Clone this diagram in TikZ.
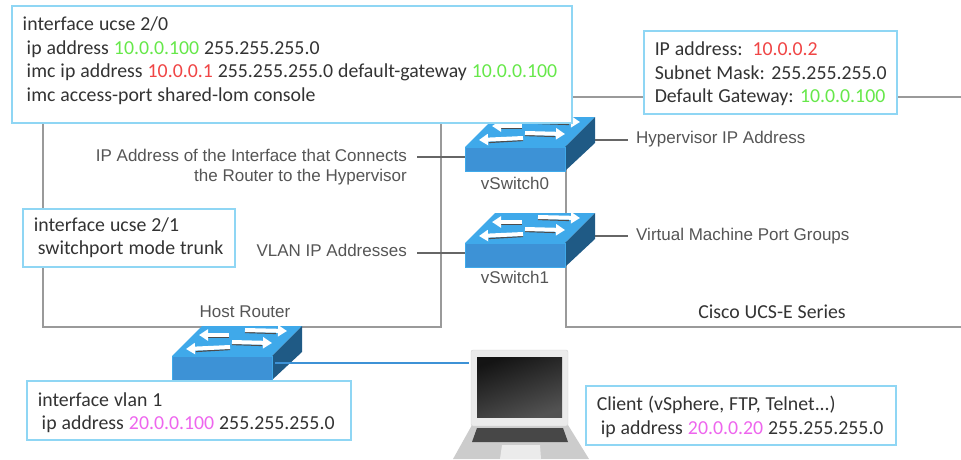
\documentclass[tikz,border=0pt]{standalone}
\usepackage{fontspec}
\setmainfont{Carlito}
\newfontfamily\labelfont{Liberation Sans}
\usetikzlibrary{arrows.meta,positioning}
\definecolor{boxblue}{HTML}{8FD6F4}
\definecolor{wiregray}{HTML}{9A9A9A}
\definecolor{inktext}{HTML}{333333}
\definecolor{labeltext}{HTML}{555555}
\definecolor{gwgreen}{HTML}{66E84A}
\definecolor{imcred}{HTML}{F04545}
\definecolor{vlanpink}{HTML}{EE66EE}
\definecolor{swtopc}{HTML}{3FA9EA}
\definecolor{swfrontc}{HTML}{3D92D6}
\definecolor{swsidec}{HTML}{1F5A85}
\newcommand{\gw}[1]{\textcolor{gwgreen}{#1}}
\newcommand{\imc}[1]{\textcolor{imcred}{#1}}
\newcommand{\vlan}[1]{\textcolor{vlanpink}{#1}}
\newcommand{\ind}{\hspace*{4pt}}
\newcommand{\topgap}[1]{\rule{0pt}{#1}}
\newcommand{\boxfont}{\fontsize{19.8}{23.5}\selectfont\spaceskip=5pt\relax}
\tikzset{infobox/.style={draw=boxblue,fill=white,line width=1.5pt,anchor=north west,align=flush left,inner xsep=11pt,inner ysep=0pt,text=inktext,font=\boxfont,text width=#1}}
\tikzset{wire/.style={draw=wiregray,line width=1.4pt}}
\tikzset{stub/.style={draw=black!60,line width=1.1pt}}
\tikzset{swlabel/.style={text=labeltext,font=\labelfont\fontsize{17}{20}\selectfont,inner sep=0pt}}
\tikzset{swfront/.style={rectangle,fill=swfrontc,draw=swtopc,line width=0.6pt,minimum width=100pt,minimum height=24pt,inner sep=0pt}}
\tikzset{swarrow/.style={white,line width=4pt,-{Triangle[length=9pt,width=11pt]}}}
\tikzset{swshadow/.style={black!70,line width=1.2pt}}
\newcommand{\swbox}[3]{
  \begin{scope}[shift={(#2,#3)}]
    \fill[swtopc] (0,0) -- (30,-30) -- (130,-30) -- (100,0) -- cycle;
    \fill[swsidec] (100,0) -- (130,-30) -- (130,-4) -- (100,24) -- cycle;
    \node[swfront] (#1) at (50,12) {};
    \coordinate (#1side) at (130,-7);
    \draw[swshadow] (36,-18.5) -- (57,-18.5);
    \draw[swshadow] (24,-4.5) -- (58,-6.5);
    \draw[swshadow] (73,-23.5) -- (104,-22.5);
    \draw[swshadow] (60,-11.5) -- (90,-10.5);
    \draw[swarrow] (57,-21) -- (27,-21);
    \draw[swarrow] (58,-9) -- (14,-7);
    \draw[swarrow] (73,-26) -- (115,-25);
    \draw[swarrow] (60,-14) -- (100,-13);
  \end{scope}
}
\begin{document}
\begin{tikzpicture}[x=1pt,y=-1pt]
    \useasboundingbox (0,0) rectangle (961,459);

    \coordinate (hosttl) at (43,115);
    \coordinate (hostbl) at (43,327);
    \coordinate (hostbr) at (441,327);
    \coordinate (hosttr) at (441,115);
    \coordinate (ciscotl) at (566,110);
    \coordinate (ciscobl) at (566,327);
    \coordinate (ciscobr) at (961,327);
    \coordinate (mgmtl) at (565,97);
    \coordinate (mgmtr) at (961,97);
    \coordinate (addrstub) at (417,157);
    \coordinate (vlanstub) at (417,253);
    \coordinate (hyperstub) at (628,140);
    \coordinate (groupstub) at (628,236);

    \draw[wire] (hosttl) -- (hostbl) -- (hostbr) -- (hosttr);
    \draw[wire] (ciscotl) -- (ciscobl) -- (ciscobr);
    \draw[wire] (mgmtl) -- (mgmtr);

    \swbox{sw0}{465}{147}
    \swbox{sw1}{465}{243}
    \swbox{hostsw}{172}{356}

    \draw[stub] (addrstub) -- (addrstub -| sw0.west);
    \draw[stub] (vlanstub) -- (vlanstub -| sw1.west);
    \draw[stub] (sw0side) -- (hyperstub);
    \draw[stub] (sw1side) -- (groupstub);

    \node[swlabel,below = 6pt of sw0] (sw0name) {vSwitch0};
    \node[swlabel,below = 4pt of sw1] (sw1name) {vSwitch1};
    \node[swlabel] (hostname) at (245,312) {Host Router};
    \node[swlabel,anchor=east,align=right] (addrnote) at (407,167) {IP Address of the Interface that Connects\\the Router to the Hypervisor};
    \node[swlabel,anchor=east] (vlannote) at (407,250) {VLAN IP Addresses};
    \node[swlabel,anchor=west] (hypernote) at (636,139) {Hypervisor IP Address};
    \node[swlabel,anchor=west] (groupnote) at (636,236) {Virtual Machine Port Groups};
    \node[text=inktext,font=\boxfont,inner sep=0pt] (cisconame) at (772,312) {Cisco UCS-E Series};

    \node[infobox=538pt,minimum height=117pt] (ucse0) at (11,5) {interface ucse 2/0\\
      \ind ip address \gw{10.0.0.100} 255.255.255.0\\
      \ind imc ip address \imc{10.0.0.1} 255.255.255.0 default-gateway \gw{10.0.0.100}\\
      \ind imc access-port shared-lom console\par\vspace{7pt}};
    \node[infobox=231pt,minimum height=83pt] (hyper) at (643,30) {\topgap{17pt}IP address:\ \ \imc{10.0.0.2}\\
      \mbox{Subnet Mask: 255.255.255.0}\\
      \mbox{Default Gateway: \gw{10.0.0.100}}};
    \node[infobox=190pt,minimum height=58pt] (ucse1) at (22,208) {interface ucse 2/1\\
      \ind switchport mode trunk};
    \node[infobox=302pt,minimum height=59pt] (vlan1) at (26,380) {\topgap{19pt}interface vlan 1\\
      \ind ip address \vlan{20.0.0.100} 255.255.255.0};
    \node[infobox=288pt,minimum height=59pt] (client) at (585,385) {\topgap{18pt}Client (vSphere, FTP, Telnet...)\\
      \ind ip address \vlan{20.0.0.20} 255.255.255.0};

    \fill[black!20] (472,425) -- (568,425) -- (589,459) -- (453,459) -- cycle;
    \fill[black!72] (477,428) -- (563,428) -- (568,442) -- (472,442) -- cycle;
    \fill[black!8] (502,445) -- (540,445) -- (541,459) -- (500,459) -- cycle;
    \node[rectangle,rounded corners=2pt,fill=black!8,draw=black!18,minimum width=97pt,minimum height=76pt,inner sep=0pt] (lid) at (519.5,388) {};
    \node[rectangle,shading=axis,top color=black!92,bottom color=black!68,shading angle=20,minimum width=85pt,minimum height=60pt,inner sep=0pt] (screen) at (519.5,387) {};

    \draw[draw=black!45,line width=2.6pt] ([yshift=5pt]hostsw.east) ++(3,0) -- ++(194,0);
    \draw[draw=swfrontc,line width=1.6pt] ([yshift=5pt]hostsw.east) ++(3,0) -- ++(194,0);
\end{tikzpicture}
\end{document}
